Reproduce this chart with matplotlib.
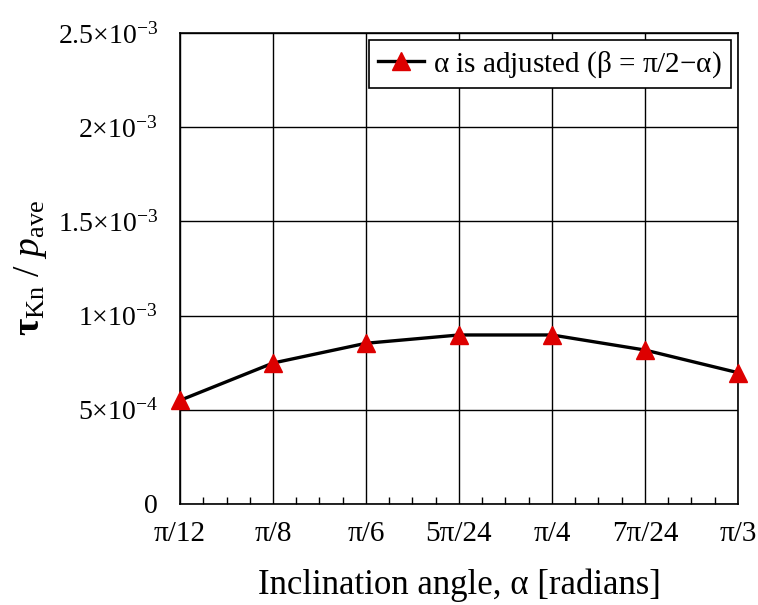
import numpy as np
import matplotlib.pyplot as plt
from matplotlib.ticker import MultipleLocator

plt.rcParams['font.family'] = ['Liberation Serif', 'DejaVu Serif']
plt.rcParams['mathtext.fontset'] = 'custom'
plt.rcParams['mathtext.rm'] = 'Liberation Serif'
plt.rcParams['mathtext.it'] = 'Liberation Serif:italic'
plt.rcParams['mathtext.bf'] = 'Liberation Serif:bold'

# data (alpha in units of pi/24)
alpha_24 = [2, 3, 4, 5, 6, 7, 8]
alpha_labels = ['π/12', 'π/8', 'π/6', '5π/24', 'π/4', '7π/24', 'π/3']
tau_ratio = [5.5e-4, 7.48e-4, 8.53e-4, 8.97e-4, 8.97e-4, 8.17e-4, 6.97e-4]

y_ticks = [0, 5e-4, 1e-3, 1.5e-3, 2e-3, 2.5e-3]
y_labels = ['0', r'$5{\times}10^{-4}$', r'$1{\times}10^{-3}$', r'$1.5{\times}10^{-3}$',
            r'$2{\times}10^{-3}$', r'$2.5{\times}10^{-3}$']

fig = plt.figure(figsize=(7.58, 6.05), dpi=100)
ax = fig.add_axes([0.2375, 0.167, 0.736, 0.7785])

x = np.array(alpha_24) * np.pi / 24
ax.plot(x, tau_ratio, color='black', lw=2.4, marker='^', ms=13, clip_on=False,
        mfc='#dd0000', mec='#dd0000', label=r'α is adjusted (β = π/2$-$α)', zorder=5)

ax.set_xlim(x[0], x[-1])
ax.set_ylim(0, 2.5e-3)
ax.set_xticks(x)
ax.set_xticklabels(alpha_labels)
ax.xaxis.set_minor_locator(MultipleLocator(np.pi / 96))
ax.set_yticks(y_ticks)
ax.set_yticklabels(y_labels)
ax.tick_params(axis='both', which='major', direction='in', length=0, labelsize=20)
ax.tick_params(axis='x', which='major', labelsize=21, pad=12)
ax.tick_params(axis='y', which='major', pad=16)
ax.tick_params(axis='x', which='minor', direction='in', length=5, width=1, bottom=True)
ax.grid(True, which='major', color='black', lw=1)
for s in ax.spines.values():
    s.set_linewidth(1.2)

ax.set_xlabel('Inclination angle, α [radians]', fontsize=25, labelpad=16)
ax.set_ylabel(r'$\mathbf{τ}_{\rm Kn}$ / $p_{\rm ave}$', fontsize=27, labelpad=6)

leg = ax.legend(loc='upper right', fontsize=21, fancybox=False, framealpha=1,
                edgecolor='black', handlelength=1.6, handletextpad=0.3,
                borderpad=0.3, borderaxespad=0.25)
leg.get_frame().set_linewidth(1.2)

fig.savefig('out.png', dpi=100)
